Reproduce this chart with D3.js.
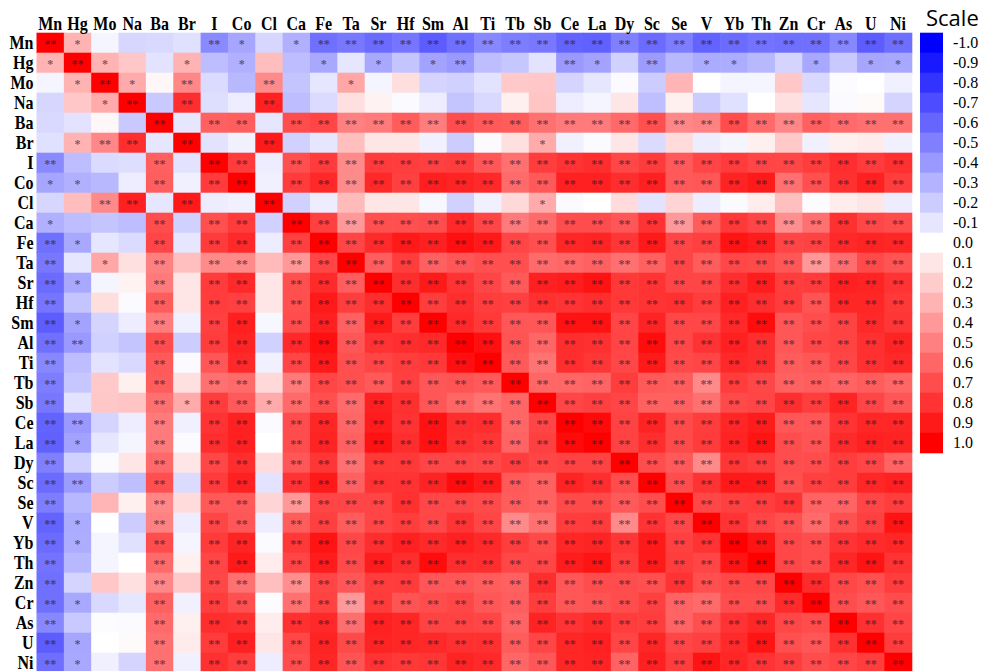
<!DOCTYPE html>
<html>
<head>
<meta charset="utf-8">
<script src="https://cdn.jsdelivr.net/npm/d3@7"></script>
<style>
  html, body { margin: 0; padding: 0; background: #fff; }
  svg { display: block; }
</style>
</head>
<body>
<svg id="chart" width="982" height="671"></svg>
<script>
// Elements, in matrix order (rows top to bottom, columns left to right)
const elements = ["Mn","Hg","Mo","Na","Ba","Br","I","Co","Cl","Ca","Fe","Ta","Sr","Hf","Sm","Al",
                  "Ti","Tb","Sb","Ce","La","Dy","Sc","Se","V","Yb","Th","Zn","Cr","As","U","Ni"];

// Pearson correlation coefficients, lower triangle: row i holds r(i, j) for j < i
const corrLower = [
  [],
  [0.30],
  [-0.04, 0.30],
  [-0.16, 0.22, 0.33],
  [-0.15, -0.11, 0.03, -0.21],
  [-0.12, 0.30, 0.47, 0.82, -0.10],
  [-0.46, -0.26, -0.14, -0.13, 0.62, -0.11],
  [-0.35, -0.31, -0.28, -0.07, 0.63, -0.06, 0.77],
  [-0.16, 0.26, 0.46, 0.87, -0.10, 0.90, -0.07, -0.06],
  [-0.31, -0.26, -0.23, -0.26, 0.70, -0.18, 0.69, 0.77, -0.18],
  [-0.56, -0.34, -0.10, -0.14, 0.73, -0.10, 0.77, 0.84, -0.07, 0.75],
  [-0.53, -0.10, 0.35, 0.12, 0.50, 0.25, 0.46, 0.46, 0.27, 0.40, 0.73],
  [-0.58, -0.34, -0.04, 0.05, 0.52, 0.10, 0.77, 0.84, 0.10, 0.69, 0.83, 0.63],
  [-0.54, -0.23, 0.13, -0.02, 0.64, 0.10, 0.76, 0.75, 0.10, 0.69, 0.90, 0.76, 0.82],
  [-0.64, -0.36, -0.17, -0.07, 0.51, -0.06, 0.75, 0.88, -0.03, 0.70, 0.87, 0.62, 0.90, 0.76],
  [-0.56, -0.40, -0.18, -0.23, 0.70, -0.20, 0.76, 0.86, -0.18, 0.84, 0.94, 0.66, 0.80, 0.82, 0.84],
  [-0.47, -0.26, -0.11, -0.15, 0.65, -0.02, 0.66, 0.84, -0.06, 0.73, 0.90, 0.69, 0.73, 0.76, 0.78, 0.94],
  [-0.51, -0.22, 0.21, 0.06, 0.64, 0.12, 0.56, 0.58, 0.15, 0.52, 0.73, 0.69, 0.65, 0.75, 0.66, 0.67, 0.65],
  [-0.53, -0.11, 0.22, 0.23, 0.56, 0.33, 0.76, 0.65, 0.33, 0.58, 0.69, 0.58, 0.87, 0.81, 0.66, 0.60, 0.55, 0.60],
  [-0.61, -0.40, -0.17, -0.07, 0.52, -0.06, 0.80, 0.87, -0.02, 0.70, 0.85, 0.60, 0.89, 0.80, 0.93, 0.82, 0.82, 0.60, 0.73],
  [-0.62, -0.36, -0.10, -0.04, 0.52, -0.02, 0.82, 0.87, 0.00, 0.70, 0.86, 0.62, 0.93, 0.82, 0.93, 0.81, 0.79, 0.61, 0.75, 0.96],
  [-0.50, -0.18, -0.02, 0.10, 0.59, 0.10, 0.72, 0.82, 0.14, 0.66, 0.79, 0.56, 0.78, 0.78, 0.73, 0.73, 0.72, 0.76, 0.73, 0.74, 0.74],
  [-0.58, -0.39, -0.20, -0.25, 0.69, -0.14, 0.77, 0.87, -0.11, 0.80, 0.90, 0.62, 0.80, 0.80, 0.86, 0.95, 0.90, 0.65, 0.62, 0.86, 0.82, 0.70],
  [-0.51, -0.28, 0.29, 0.06, 0.47, 0.14, 0.65, 0.65, 0.17, 0.40, 0.73, 0.73, 0.73, 0.81, 0.72, 0.72, 0.71, 0.64, 0.62, 0.71, 0.71, 0.65, 0.70],
  [-0.61, -0.33, 0.00, -0.20, 0.49, -0.07, 0.73, 0.66, -0.07, 0.64, 0.75, 0.64, 0.73, 0.76, 0.72, 0.80, 0.73, 0.46, 0.56, 0.76, 0.77, 0.46, 0.80, 0.72],
  [-0.58, -0.32, -0.04, -0.12, 0.70, -0.04, 0.77, 0.86, -0.02, 0.78, 0.92, 0.72, 0.82, 0.87, 0.84, 0.87, 0.84, 0.76, 0.71, 0.85, 0.86, 0.79, 0.90, 0.75, 0.80],
  [-0.55, -0.28, -0.04, 0.00, 0.58, 0.06, 0.73, 0.90, 0.07, 0.73, 0.89, 0.71, 0.89, 0.82, 0.95, 0.82, 0.82, 0.72, 0.73, 0.89, 0.92, 0.76, 0.90, 0.76, 0.73, 0.92],
  [-0.56, -0.17, 0.22, 0.12, 0.47, 0.21, 0.72, 0.56, 0.25, 0.44, 0.73, 0.66, 0.76, 0.77, 0.66, 0.66, 0.64, 0.62, 0.82, 0.66, 0.70, 0.70, 0.69, 0.80, 0.69, 0.72, 0.72],
  [-0.56, -0.34, -0.15, -0.10, 0.62, -0.06, 0.76, 0.69, -0.01, 0.56, 0.74, 0.40, 0.77, 0.67, 0.70, 0.72, 0.66, 0.63, 0.76, 0.66, 0.67, 0.70, 0.75, 0.61, 0.58, 0.70, 0.70, 0.83],
  [-0.47, -0.21, -0.01, -0.02, 0.58, 0.06, 0.82, 0.81, 0.07, 0.81, 0.84, 0.57, 0.87, 0.85, 0.74, 0.74, 0.73, 0.61, 0.86, 0.80, 0.83, 0.76, 0.76, 0.61, 0.69, 0.80, 0.85, 0.72, 0.70],
  [-0.64, -0.35, 0.00, 0.02, 0.56, 0.08, 0.77, 0.87, 0.10, 0.72, 0.86, 0.71, 0.86, 0.85, 0.84, 0.81, 0.81, 0.64, 0.73, 0.85, 0.87, 0.73, 0.85, 0.73, 0.75, 0.83, 0.92, 0.69, 0.66, 0.81],
  [-0.57, -0.34, -0.06, -0.17, 0.56, -0.06, 0.81, 0.76, -0.07, 0.70, 0.85, 0.67, 0.80, 0.78, 0.79, 0.86, 0.84, 0.60, 0.66, 0.85, 0.86, 0.61, 0.87, 0.76, 0.92, 0.85, 0.80, 0.76, 0.70, 0.73, 0.76]
];

// Colour-bar steps
const scaleSteps = [-1.0, -0.9, -0.8, -0.7, -0.6, -0.5, -0.4, -0.3, -0.2, -0.1, 0.0,
                    0.1, 0.2, 0.3, 0.4, 0.5, 0.6, 0.7, 0.8, 0.9, 1.0];

// Critical |r| for n = 45 samples (two-tailed): p < 0.05 -> "*", p < 0.01 -> "**"
const critR05 = 0.294;
const critR01 = 0.380;

const corr = (i, j) => i === j ? 1 : (i > j ? corrLower[i][j] : corrLower[j][i]);
const stars = v => Math.abs(v) >= critR01 ? "**" : (Math.abs(v) >= critR05 ? "*" : "");

const cells = [];
elements.forEach((r, i) => elements.forEach((c, j) => cells.push({ row: r, col: c, v: corr(i, j) })));

const svg = d3.select("#chart");
const x = d3.scaleBand().domain(elements).range([36.5, 911.7]);
const y = d3.scaleBand().domain(elements).range([32.7, 672.7]);
const color = d3.scaleLinear().domain([-1, 0, 1]).range(["#0000ff", "#ffffff", "#ff0000"]);

// Labels are set in a tall bold serif: the glyphs are stretched vertically
const labelStretch = 1.2;

// Heat-map cells (slight overlap avoids hairline seams between neighbours)
svg.append("g")
  .selectAll("rect")
  .data(cells)
  .join("rect")
  .attr("x", d => x(d.col))
  .attr("y", d => y(d.row))
  .attr("width", x.bandwidth() + 0.6)
  .attr("height", y.bandwidth() + 0.6)
  .attr("fill", d => color(d.v));

// Significance marks
svg.append("g")
  .selectAll("text")
  .data(cells.filter(d => stars(d.v)))
  .join("text")
  .attr("x", d => x(d.col) + x.bandwidth() / 2)
  .attr("y", d => y(d.row) + y.bandwidth() / 2 + 5.5)
  .attr("text-anchor", "middle")
  .attr("fill", "rgba(40,20,40,0.6)")
  .style("font", "bold 12px 'Liberation Serif', serif")
  .text(d => stars(d.v));

// Column labels
const topAxis = svg.append("g")
  .attr("transform", `translate(0,${y.range()[0]})`)
  .call(d3.axisTop(x).tickSize(0));
topAxis.select(".domain").remove();
topAxis.selectAll("text")
  .attr("y", -2.6 / labelStretch)
  .attr("dy", 0)
  .attr("transform", `scale(1,${labelStretch})`)
  .style("font", "bold 16px 'Liberation Serif', serif")
  .attr("fill", "#000");

// Row labels
const leftAxis = svg.append("g")
  .attr("transform", `translate(${x.range()[0]},0)`)
  .call(d3.axisLeft(y).tickSize(0).tickPadding(3));
leftAxis.select(".domain").remove();
leftAxis.selectAll("text")
  .attr("y", 5.8 / labelStretch)
  .attr("dy", 0)
  .attr("transform", `scale(1,${labelStretch})`)
  .style("font", "bold 16px 'Liberation Serif', serif")
  .attr("fill", "#000");

// Colour bar
const ly = d3.scaleBand().domain(scaleSteps).range([32.7, 32.7 + 20 * scaleSteps.length]);
const legend = svg.append("g");
legend.selectAll("rect")
  .data(scaleSteps)
  .join("rect")
  .attr("x", 920)
  .attr("y", d => ly(d))
  .attr("width", 23)
  .attr("height", ly.bandwidth() + 0.6)
  .attr("fill", d => color(d));

const legendAxis = legend.append("g")
  .attr("transform", "translate(943,0)")
  .call(d3.axisRight(ly).tickSize(0).tickPadding(10).tickFormat(d => d.toFixed(1)));
legendAxis.select(".domain").remove();
legendAxis.selectAll("text")
  .attr("y", 5.6 / 1.08)
  .attr("dy", 0)
  .attr("transform", "scale(1,1.08)")
  .style("font", "16px 'Liberation Serif', serif")
  .attr("fill", "#000");

svg.append("text")
  .attr("x", 926)
  .attr("y", 26)
  .style("font", "22px 'Open Sans', sans-serif")
  .attr("fill", "#000")
  .text("Scale");
</script>
</body>
</html>
